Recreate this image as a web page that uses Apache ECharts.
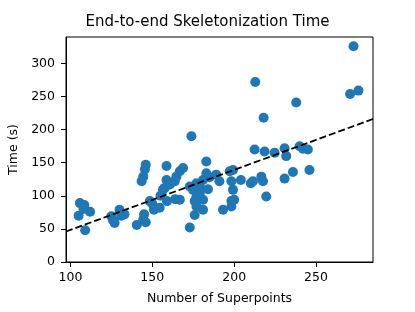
<!DOCTYPE html>
<html>
<head>
<meta charset="utf-8">
<script src="https://cdn.jsdelivr.net/npm/echarts@6/dist/echarts.min.js"></script>
<style>html,body{margin:0;padding:0;background:#fff}#c{width:415px;height:312px}</style>
</head>
<body>
<div id="c"></div>
<script>
const superpoints = [105.8,108.5,112,105,109,108,125,127,130,131,126,133,140.5,144.5,146,145,143.5,144.5,145.5,146,148.5,150,151,154.5,155,156.5,157.6,158.7,158.7,159,160.8,163.7,164.7,166.8,168.8,166.8,164,173.9,172.9,175.9,177,181,177,181,172.9,177,179,181,183,183,189,191,193.2,198.3,198.3,200,199.3,198.3,197.3,199.3,204.1,210.2,212.5,212.9,211.5,216.6,217.6,218,219.6,218.6,224.7,230.8,231.8,230.8,235.9,237.9,240,242,245,246,270.8,272.9,275.9,175.9,174.9,179,184,185];
const timeSec = [89,86,76,70,48,80,69,59,79,70,63,72,56,64,60,72,122,129,140,147,92,88,79,82,100,109,112,145,124,92,117,122,129,137,142,94,95,190,52,71,84,79,99,94,114,119,114,124,134,152,132,122,79,84,92,94,109,122,137,139,124,119,170,272,122,129,122,218,99,167,165,172,160,126,136,241,175,171,170,139,254,326,259,92,109,104,110,128];
const xTicks = [100,150,200,250];
const yTicks = [0,50,100,150,200,250,300];
const fitSlope = 0.907, fitIntercept = -42.2;
const xMin = 97.3, xMax = 284.8, yMin = 0, yMax = 340;

const pts = superpoints.map((x,i)=>[x,timeSec[i]]);
const fitLine = [xMin,xMax].map(x=>[x, fitSlope*x+fitIntercept]);
const font = 'DejaVu Sans';
const chart = echarts.init(document.getElementById('c'));
chart.setOption({
  animation:false,
  backgroundColor:'#fff',
  title:{text:'End-to-end Skeletonization Time',left:'center',top:10,
    textStyle:{fontFamily:font,fontSize:15,fontWeight:'normal',color:'#000'}},
  grid:{left:66,right:42,top:37,bottom:50,containLabel:false,outerBoundsMode:'none',show:true,borderColor:'#000',borderWidth:1,backgroundColor:'transparent'},
  xAxis:{type:'value',min:xMin,max:xMax,
    name:'Number of Superpoints',nameLocation:'middle',nameGap:30,
    nameTextStyle:{fontFamily:font,fontSize:12.5,color:'#000'},
    axisLine:{show:true,lineStyle:{color:'#000',width:1}},
    splitLine:{show:false},
    axisTick:{show:true,length:5,customValues:xTicks,lineStyle:{color:'#000',width:1}},
    axisLabel:{customValues:xTicks,fontFamily:font,fontSize:12.5,color:'#000',margin:9}},
  yAxis:{type:'value',min:yMin,max:yMax,
    name:'Time (s)',nameLocation:'middle',nameGap:43,nameRotate:90,
    nameTextStyle:{fontFamily:font,fontSize:12.5,color:'#000'},
    axisLine:{show:true,lineStyle:{color:'#000',width:1}},
    splitLine:{show:false},
    axisTick:{show:true,length:5,customValues:yTicks,lineStyle:{color:'#000',width:1}},
    axisLabel:{customValues:yTicks,fontFamily:font,fontSize:12.5,color:'#000',margin:11}},
  series:[
    {type:'scatter',data:pts,symbolSize:10,itemStyle:{color:'#1f77b4',opacity:1},z:2},
    {type:'line',data:fitLine,showSymbol:false,symbol:'none',
      lineStyle:{color:'#000',width:1.8,type:[7,3]},z:3}
  ]
});
</script>
</body>
</html>
